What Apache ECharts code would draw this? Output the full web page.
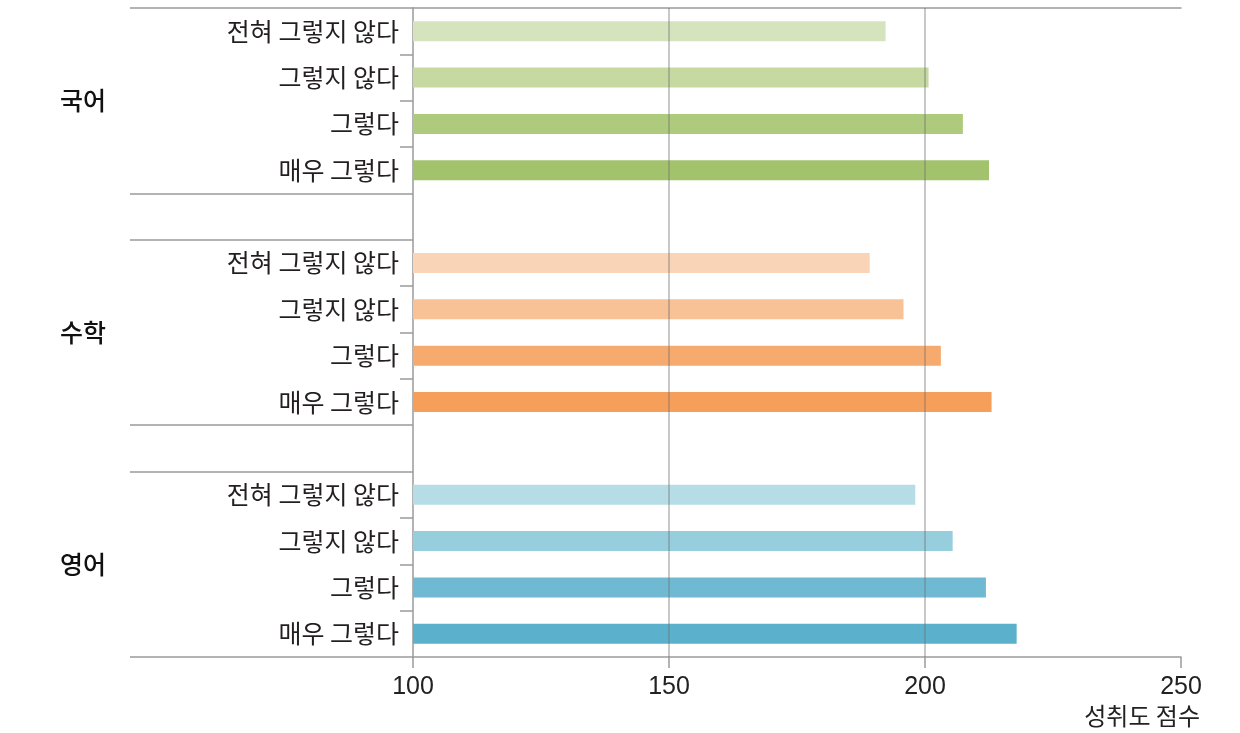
<!DOCTYPE html>
<html>
<head>
<meta charset="utf-8">
<script src="https://cdn.jsdelivr.net/npm/echarts@6/dist/echarts.min.js"></script>
<style>
html,body{margin:0;padding:0;background:#fff;}
#chart{width:1240px;height:733px;}
</style>
</head>
<body>
<div id="chart"></div>
<script>
// ---- data ----
var responseLevels = ['전혀 그렇지 않다', '그렇지 않다', '그렇다', '매우 그렇다'];
var subjects = ['국어', '수학', '영어'];
var koreanScores = [192.3, 200.7, 207.4, 212.5];
var mathScores = [189.2, 195.8, 203.1, 213.0];
var englishScores = [198.1, 205.4, 211.9, 217.9];
var xTicks = [100, 150, 200, 250];
var gridLineValues = [150, 200];
var axisName = '성취도 점수';

// ---- colours ----
var koreanColors = ['#d5e4bd', '#c5d9a0', '#aecb7d', '#a2c26b'];
var mathColors = ['#fad4b6', '#f8c196', '#f7aa6d', '#f69f5a'];
var englishColors = ['#b6dde6', '#96cede', '#6fbad2', '#5bb0cb'];

// build 14 rows: 4 + blank + 4 + blank + 4
var categories = [];
var barData = [];
var groups = [[koreanScores, koreanColors], [mathScores, mathColors], [englishScores, englishColors]];
groups.forEach(function (g, gi) {
  if (gi > 0) { categories.push(''); barData.push(null); }
  responseLevels.forEach(function (lvl, i) {
    categories.push(lvl);
    barData.push({ value: g[0][i], itemStyle: { color: g[1][i] } });
  });
});
var n = categories.length; // 14
var groupLabelPos = [2, 7, 12];
var longTickPos = [0, 4, 5, 9, 10, 14];
var shortTickPos = [1, 2, 3, 6, 7, 8, 11, 12, 13];

var axisGray = '#9a9a9a';
var chart = echarts.init(document.getElementById('chart'));
chart.setOption({
  animation: false,
  backgroundColor: '#ffffff',
  grid: { left: 413, right: 59, top: 8, bottom: 76, containLabel: false },
  xAxis: [{
    type: 'value', min: xTicks[0], max: xTicks[xTicks.length - 1], interval: 50,
    position: 'bottom',
    axisLine: { show: true, onZero: false, lineStyle: { color: axisGray, width: 1.5 } },
    axisTick: { show: true, length: 11, lineStyle: { color: axisGray, width: 1.5 } },
    splitLine: { show: false },
    axisLabel: { fontSize: 25, fontFamily: 'Liberation Sans Narrow, Arial Narrow, sans-serif', color: '#222', margin: 18 },
    name: axisName, nameLocation: 'end', nameGap: 19,
    nameTextStyle: { fontSize: 24, fontFamily: 'Noto Sans CJK KR', color: '#222', align: 'right', verticalAlign: 'top', padding: [47, 0, 0, 0] }
  }, {
    type: 'value', min: xTicks[0], max: xTicks[xTicks.length - 1], position: 'top',
    axisLine: { show: true, onZero: false, lineStyle: { color: axisGray, width: 1.5 } },
    axisTick: { show: false }, axisLabel: { show: false }, splitLine: { show: false }
  }],
  yAxis: [{
    type: 'category', data: categories, inverse: true, position: 'left',
    axisLine: { show: true, onZero: false, lineStyle: { color: axisGray, width: 1.5 } },
    axisTick: { show: false },
    axisLabel: { fontSize: 25, fontFamily: 'Noto Sans CJK KR', color: '#231f20', margin: 14 },
    splitLine: { show: false }
  }, {
    type: 'value', min: 0, max: n, inverse: true, position: 'left',
    axisLine: { show: false, onZero: false },
    axisTick: { show: true, customValues: shortTickPos, length: 13, lineStyle: { color: axisGray, width: 1.5 } },
    axisLabel: {
      show: true, customValues: groupLabelPos, margin: 307,
      fontSize: 25, fontWeight: 500, fontFamily: 'Noto Sans CJK KR', color: '#111',
      formatter: function (v) { return subjects[groupLabelPos.indexOf(v)] || ''; }
    },
    splitLine: { show: false }
  }, {
    type: 'value', min: 0, max: n, inverse: true, position: 'left',
    axisLine: { show: false, onZero: false },
    axisTick: { show: true, customValues: longTickPos, length: 283, lineStyle: { color: axisGray, width: 1.5 } },
    axisLabel: { show: false },
    splitLine: { show: false }
  }],
  series: [{
    type: 'bar', xAxisIndex: 0, yAxisIndex: 0, barWidth: 20,
    data: barData,
    markLine: {
      silent: true, symbol: ['none', 'none'],
      label: { show: false },
      lineStyle: { color: 'rgba(110,110,110,0.5)', width: 1.5, type: 'solid' },
      data: gridLineValues.map(function (v) { return { xAxis: v }; })
    }
  }]
});
</script>
</body>
</html>
